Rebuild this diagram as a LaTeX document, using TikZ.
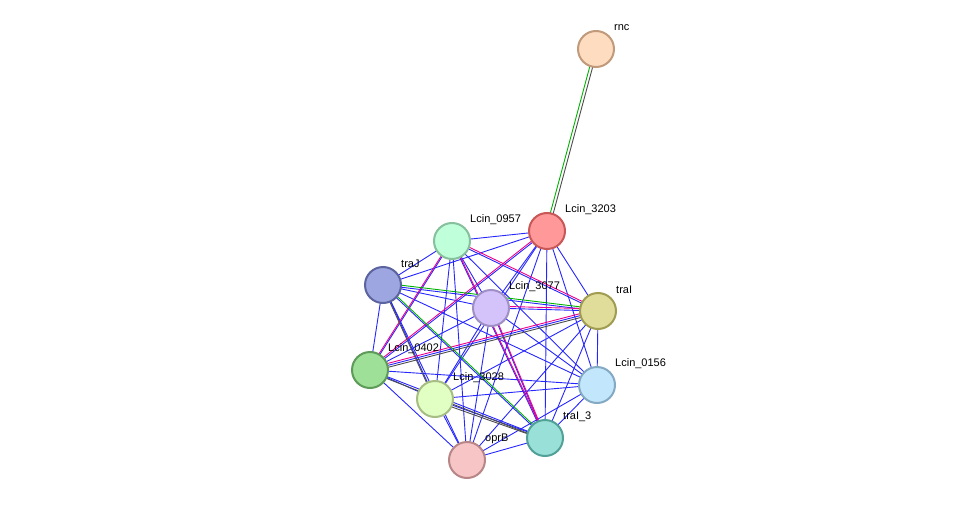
\documentclass[tikz,border=0pt]{standalone}
\usepackage{fontspec}
\setmainfont{Liberation Sans}
\usetikzlibrary{calc,backgrounds}
\begin{document}
\begin{tikzpicture}[x=1pt,y=-1pt,
  nd/.style={circle,minimum size=36pt,inner sep=0pt,line width=2pt},
  lb/.style={anchor=west,font=\fontsize{11}{13}\selectfont,inner sep=0pt},
  e/.style={blue!85!white,line width=0.9pt},
  pk/.style={magenta,line width=0.9pt},
  gr/.style={green!70!black,line width=0.9pt},
  bk/.style={black!70,line width=0.9pt}]
\useasboundingbox (0,0) rectangle (975,506);
\definecolor{c1}{HTML}{FDDCBF}\definecolor{s1}{HTML}{C09A7B}
\definecolor{c2}{HTML}{FF9999}\definecolor{s2}{HTML}{C85757}
\definecolor{c3}{HTML}{BFFFDA}\definecolor{s3}{HTML}{86C09D}
\definecolor{c4}{HTML}{9DA6E0}\definecolor{s4}{HTML}{5B649F}
\definecolor{c5}{HTML}{D4C2FB}\definecolor{s5}{HTML}{9F8FC4}
\definecolor{c6}{HTML}{E0DC9A}\definecolor{s6}{HTML}{A09C52}
\definecolor{c7}{HTML}{9EE097}\definecolor{s7}{HTML}{5E9A58}
\definecolor{c8}{HTML}{E1FFC2}\definecolor{s8}{HTML}{A6BD84}
\definecolor{c9}{HTML}{C2E6FB}\definecolor{s9}{HTML}{84A9C3}
\definecolor{c10}{HTML}{99E0D8}\definecolor{s10}{HTML}{51A198}
\definecolor{c11}{HTML}{F7C5C5}\definecolor{s11}{HTML}{B88686}
\foreach \n/\x/\y/\t/\cc in {rnc/596/49/rnc/1,a/547/231/Lcin\_3203/2,b/452/241/Lcin\_0957/3,c/383/285/traJ/4,d/491/308/Lcin\_3077/5,f/598/311/traI/6,g/370/370/Lcin\_0402/7,h/435/399/Lcin\_3028/8,i/597/385/Lcin\_0156/9,j/545/438/traI\_3/10,k/467/460/oprB/11}{
  \node[nd,fill=c\cc,draw=s\cc] (\n) at (\x,\y) {};
  \node[lb] (L\n) at (\x+18,\y-21) {\t};
}
\begin{scope}[on background layer]
\foreach \p/\q in {a/b,a/c,a/d,a/f,a/g,a/h,a/i,a/j,a/k,b/c,b/d,b/f,b/g,b/h,b/i,b/j,b/k,c/d,c/f,c/g,c/h,c/i,c/j,c/k,d/f,d/g,d/h,d/i,d/j,d/k,f/g,f/h,f/i,f/j,f/k,g/h,g/i,g/j,g/k,h/i,h/j,h/k,i/j,i/k,j/k}
  \draw[e] (\p.center) -- (\q.center);
\draw[gr,transform canvas={shift={(-1.5pt,0pt)}}] (rnc.center) -- (a.center);
\draw[bk,transform canvas={shift={(1.5pt,0pt)}}] (rnc.center) -- (a.center);
\foreach \p/\q in {b/f,b/j,d/f,d/j,g/f,a/g,b/g}
  \draw[pk,transform canvas={shift={(0pt,2pt)}}] (\p.center) -- (\q.center);
\foreach \p/\q in {c/f,c/j}
  \draw[gr,transform canvas={shift={(0pt,2pt)}}] (\p.center) -- (\q.center);
\foreach \p/\q in {g/j,h/j,g/f,c/h}
  \draw[bk,transform canvas={shift={(0pt,-2pt)}}] (\p.center) -- (\q.center);
\end{scope}
\end{tikzpicture}
\end{document}
